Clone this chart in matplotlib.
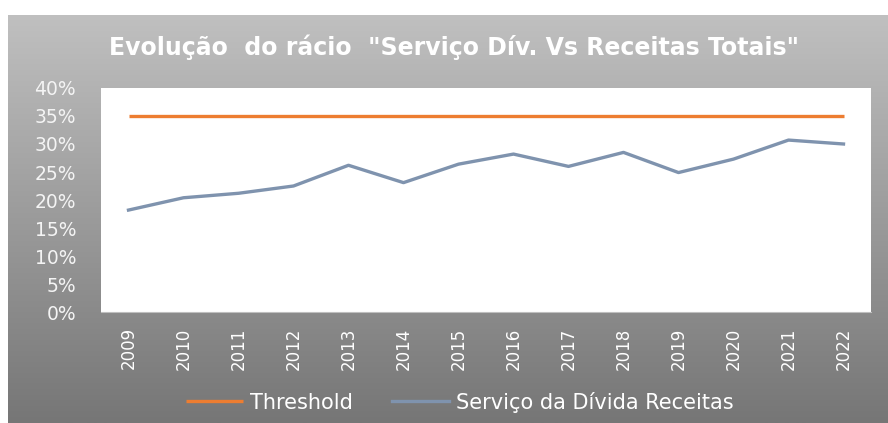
import matplotlib
matplotlib.use("Agg")
import matplotlib.pyplot as plt
import numpy as np
from matplotlib.ticker import PercentFormatter

years = ["2009", "2010", "2011", "2012", "2013", "2014", "2015", "2016",
         "2017", "2018", "2019", "2020", "2021", "2022"]
threshold = [35.0] * 14
servico = [18.2, 20.4, 21.2, 22.5, 26.2, 23.1, 26.4, 28.2, 26.0, 28.5,
           24.9, 27.3, 30.7, 30.0]
title = 'Evolução  do rácio  "Serviço Dív. Vs Receitas Totais"'
series_names = ["Threshold", "Serviço da Dívida Receitas"]

W, H = 888, 423
fig = plt.figure(figsize=(W / 100, H / 100), dpi=100)
fig.patch.set_facecolor("white")

# gradient background
bg = fig.add_axes([8 / W, 0, 1 - 8 / W, 1 - 15 / H])
grad = np.linspace(0, 1, 256).reshape(-1, 1)
top = np.array([192, 192, 192]) / 255
bot = np.array([118, 118, 118]) / 255
img = top[None, None, :] * (1 - grad[:, :, None]) + bot[None, None, :] * grad[:, :, None]
bg.imshow(img, aspect="auto", extent=[0, 1, 0, 1])
bg.set_axis_off()

ax = fig.add_axes([101 / W, 1 - 312 / H, 770 / W, 224 / H])
ax.set_facecolor("white")
x = np.arange(len(years))
ax.plot(x, threshold, color="#ED7D31", lw=2.4, label=series_names[0], solid_capstyle="butt")
ax.plot(x, servico, color="#7F93AE", lw=2.4, label=series_names[1])
ax.set_xlim(-0.5, len(years) - 0.5)
ax.set_ylim(0, 40)
ax.set_yticks(np.arange(0, 41, 5))
ax.yaxis.set_major_formatter(PercentFormatter(decimals=0))
ax.set_xticks(x)
ax.set_xticklabels(years, rotation=90)
ax.tick_params(axis="y", length=0, pad=18, labelsize=13.5, labelcolor="#f4f4f4")
ax.tick_params(axis="x", length=0, pad=11, labelsize=12, labelcolor="white")
for s in ax.spines.values():
    s.set_visible(False)
ax.spines["bottom"].set_visible(True)
ax.spines["bottom"].set_color("#bfbfbf")

fig.text(454 / W, 1 - 47 / H, title, ha="center", va="center", color="white",
         fontsize=17, fontweight="bold", family="DejaVu Sans")

leg = fig.legend(loc="center", bbox_to_anchor=(460 / W, 1 - 402 / H), ncol=2,
                 frameon=False, handlelength=2.7, handletextpad=0.35,
                 columnspacing=1.9,
                 prop={"family": "DejaVu Sans", "size": 15})
for t in leg.get_texts():
    t.set_color("white")

fig.savefig("out.png", dpi=100)
